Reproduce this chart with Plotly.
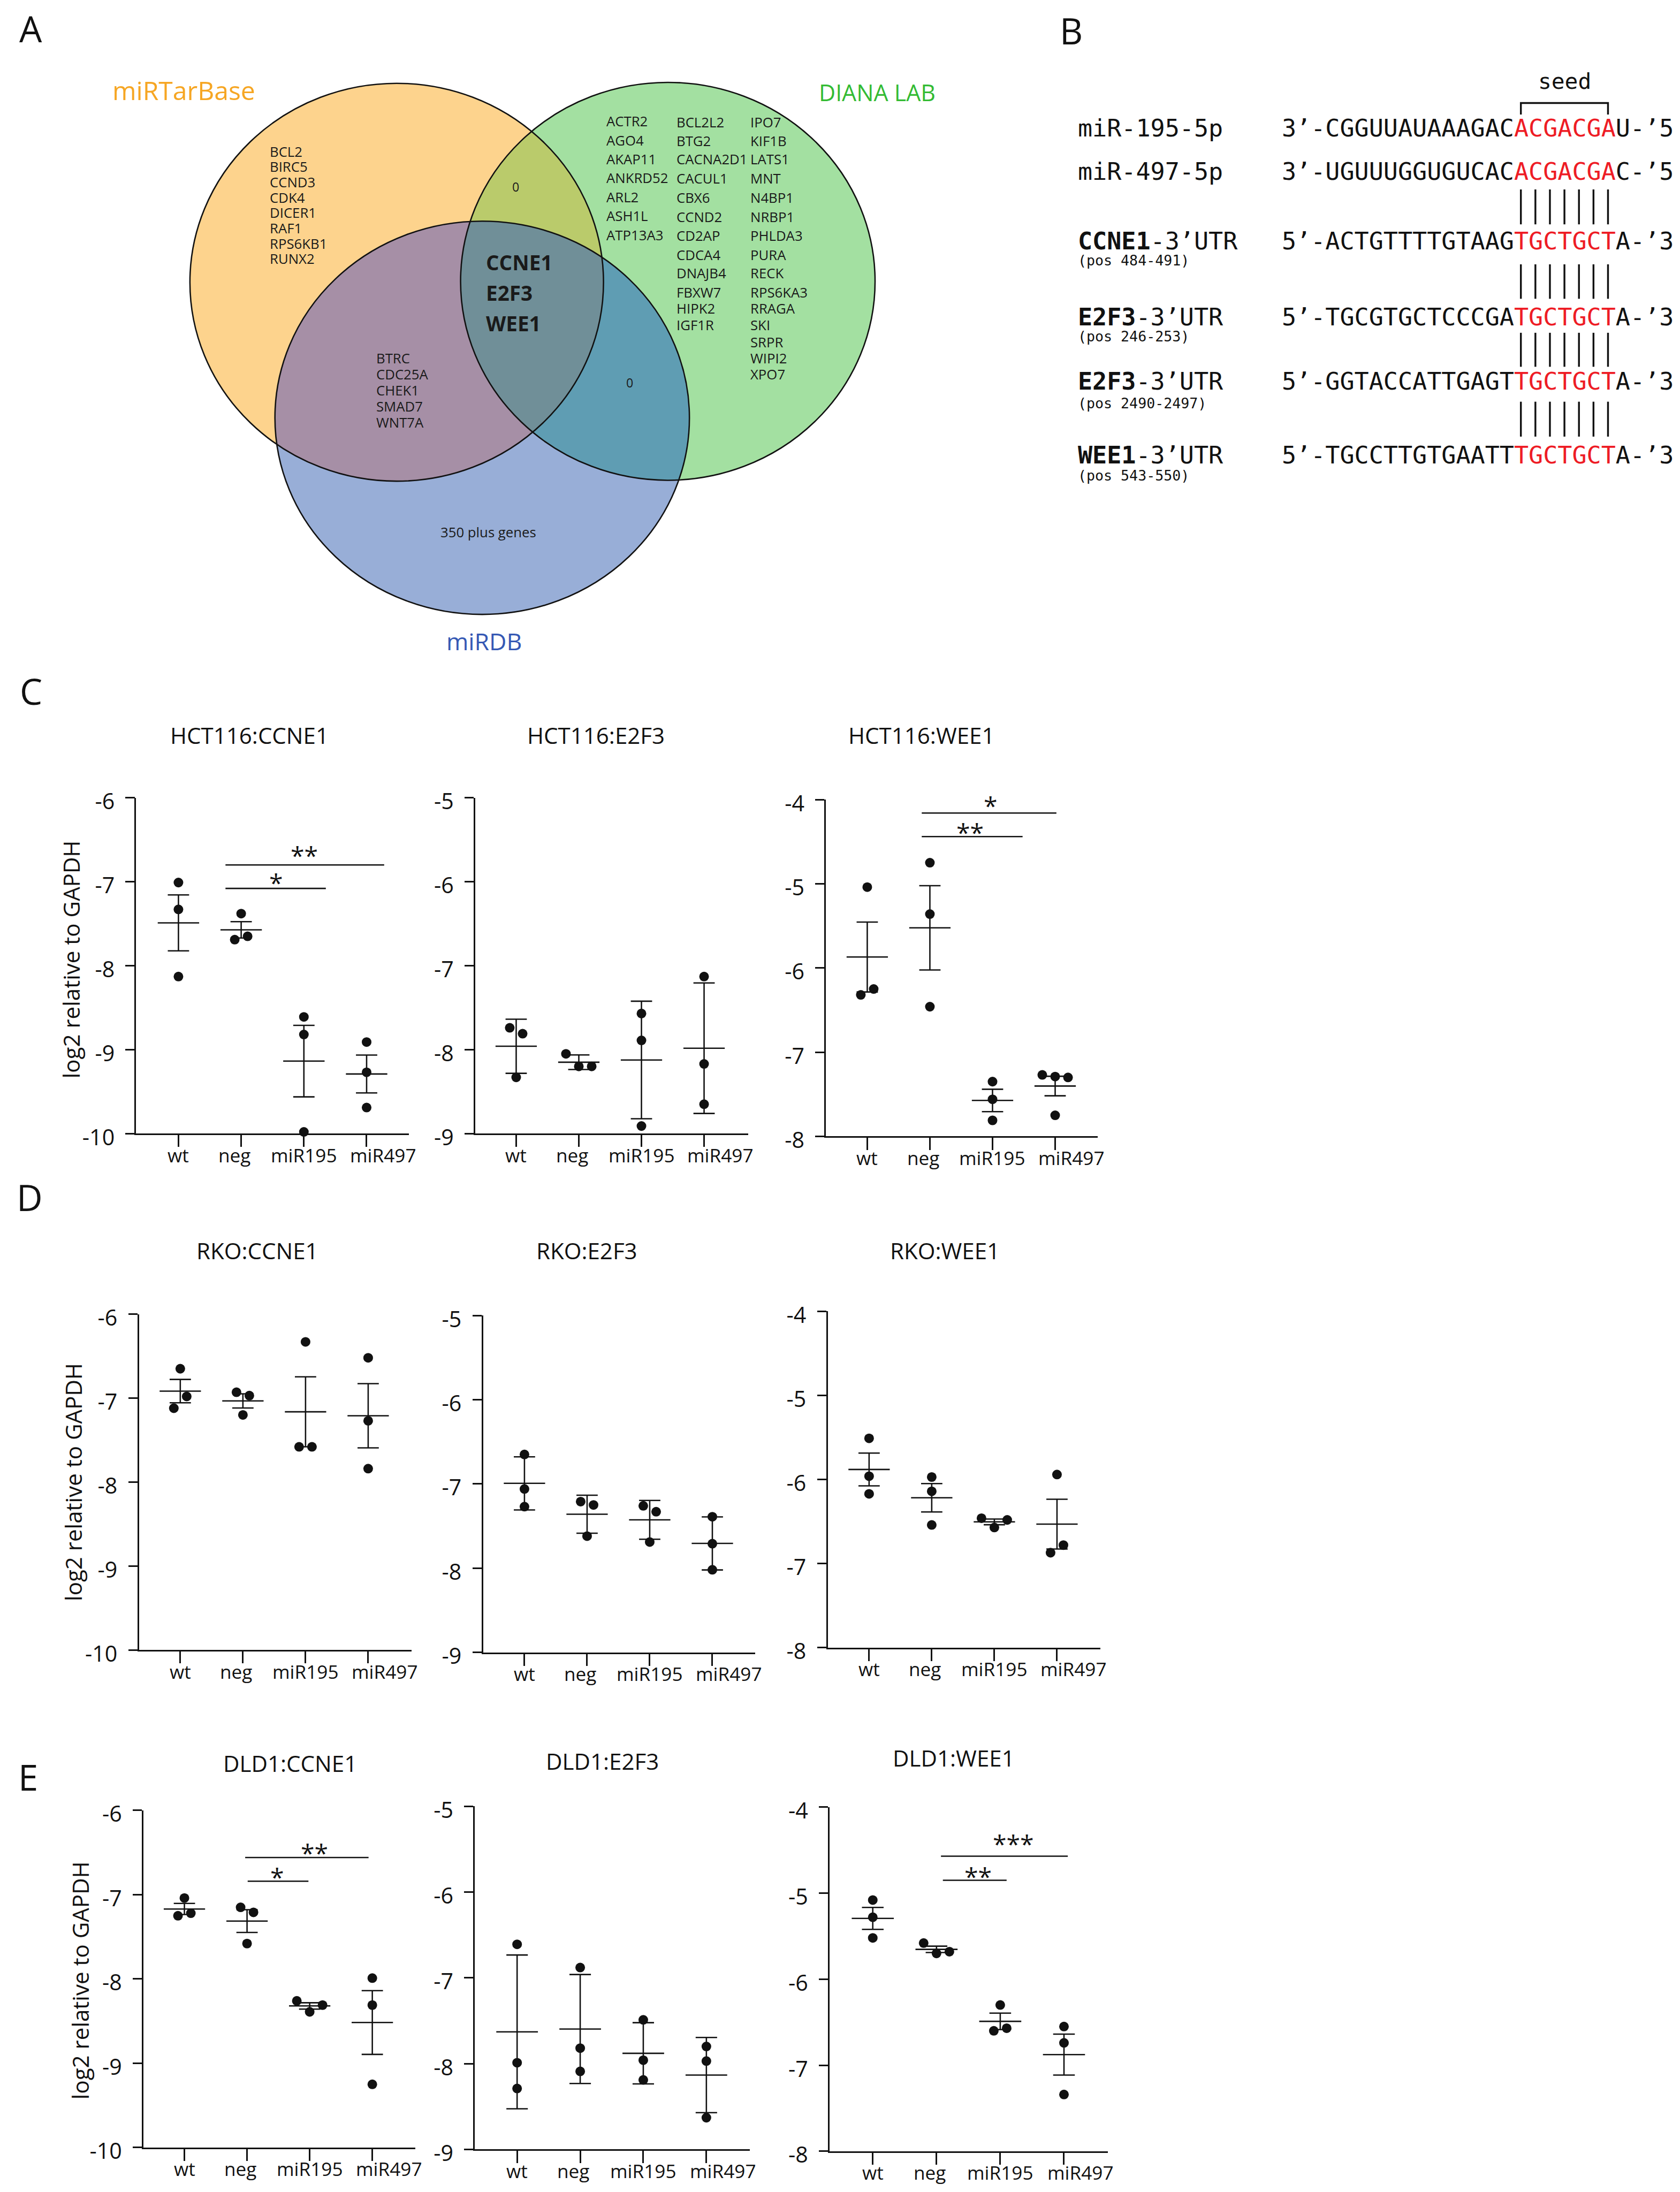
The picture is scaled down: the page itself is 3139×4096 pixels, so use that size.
import numpy as np
import plotly.graph_objects as go

# ---------------- canvas / scaling ----------------
RW, RH = 3656, 4771          # reference size
W, H = 3139, 4096            # output size
S = W / RW

def fx(x):
    return x / RW

def fy(y):
    return 1 - y / RH

def f(v):
    return v * S

# ---------------- data ----------------
categories = ["wt", "neg", "miR195", "miR497"]

hct116_ccne1 = [[-7.01, -7.33, -8.13], [-7.38, -7.69, -7.65], [-8.61, -8.82, -9.98], [-8.91, -9.27, -9.69]]
hct116_e2f3 = [[-7.74, -7.81, -8.33], [-8.05, -8.20, -8.20], [-7.57, -7.89, -8.91], [-7.13, -8.17, -8.65]]
hct116_wee1 = [[-5.04, -6.32, -6.25], [-4.75, -5.36, -6.46], [-7.35, -7.56, -7.81], [-7.27, -7.29, -7.30, -7.75]]
rko_ccne1 = [[-6.65, -7.12, -6.98], [-6.93, -6.97, -7.20], [-6.33, -7.58, -7.58], [-6.52, -7.27, -7.84]]
rko_e2f3 = [[-6.65, -7.06, -7.27], [-7.21, -7.25, -7.62], [-7.26, -7.33, -7.69], [-7.39, -7.71, -8.02]]
rko_wee1 = [[-5.51, -5.96, -6.17], [-5.97, -6.14, -6.54], [-6.46, -6.57, -6.48], [-5.94, -6.87, -6.78]]
dld1_ccne1 = [[-7.04, -7.25, -7.22], [-7.15, -7.21, -7.58], [-8.26, -8.39, -8.31], [-7.99, -8.31, -9.25]]
dld1_e2f3 = [[-6.61, -7.99, -8.29], [-6.88, -7.82, -8.09], [-7.49, -7.96, -8.19], [-7.80, -7.97, -8.63]]
dld1_wee1 = [[-5.08, -5.28, -5.52], [-5.58, -5.70, -5.68], [-6.30, -6.60, -6.57], [-6.55, -6.74, -7.34]]

titles = ["HCT116:CCNE1", "HCT116:E2F3", "HCT116:WEE1",
          "RKO:CCNE1", "RKO:E2F3", "RKO:WEE1",
          "DLD1:CCNE1", "DLD1:E2F3", "DLD1:WEE1"]
datasets = [hct116_ccne1, hct116_e2f3, hct116_wee1,
            rko_ccne1, rko_e2f3, rko_wee1,
            dld1_ccne1, dld1_e2f3, dld1_wee1]
err_types = ["sem", "sd", "sem"] * 3
y_ranges = [(-10, -6), (-9, -5), (-8, -4)] * 3
y_title = "log2 relative to GAPDH"

# significance brackets: (x start, x end, y, label, label x, label y)
sig_brackets = {
    0: [(0.75, 3.28, -6.80, "**", 2.01, -6.67), (0.75, 2.35, -7.08, "*", 1.56, -6.99)],
    2: [(0.87, 3.02, -4.16, "*", 1.97, -4.05), (0.87, 2.48, -4.44, "**", 1.64, -4.37)],
    6: [(0.97, 2.94, -6.56, "**", 2.08, -6.485), (1.01, 1.98, -6.84, "*", 1.48, -6.77)],
    8: [(1.07, 3.06, -4.57, "***", 2.21, -4.41), (1.10, 2.10, -4.85, "**", 1.65, -4.79)],
}

# Venn texts
venn_sets = ["miRTarBase", "DIANA LAB", "miRDB"]
mirtarbase_only = ["BCL2", "BIRC5", "CCND3", "CDK4", "DICER1", "RAF1", "RPS6KB1", "RUNX2"]
mirtarbase_mirdb = ["BTRC", "CDC25A", "CHEK1", "SMAD7", "WNT7A"]
all_three = ["CCNE1", "E2F3", "WEE1"]
diana_col1 = ["ACTR2", "AGO4", "AKAP11", "ANKRD52", "ARL2", "ASH1L", "ATP13A3"]
diana_col2 = ["BCL2L2", "BTG2", "CACNA2D1", "CACUL1", "CBX6", "CCND2", "CD2AP", "CDCA4",
              "DNAJB4", "FBXW7", "HIPK2", "IGF1R"]
diana_col3 = ["IPO7", "KIF1B", "LATS1", "MNT", "N4BP1", "NRBP1", "PHLDA3", "PURA", "RECK",
              "RPS6KA3", "RRAGA", "SKI", "SRPR", "WIPI2", "XPO7"]
tarbase_diana = "0"
diana_mirdb = "0"
mirdb_only = "350 plus genes"

# panel B sequences (prefix, seed, suffix)
seq_names = ["miR-195-5p", "miR-497-5p", "<b>CCNE1</b>-3’UTR", "<b>E2F3</b>-3’UTR",
             "<b>E2F3</b>-3’UTR", "<b>WEE1</b>-3’UTR"]
seq_pos = ["", "", "(pos 484-491)", "(pos 246-253)", "(pos 2490-2497)", "(pos 543-550)"]
seq_parts = [("3’-CGGUUAUAAAGAC", "ACGACGA", "U-’5"),
             ("3’-UGUUUGGUGUCAC", "ACGACGA", "C-’5"),
             ("5’-ACTGTTTTGTAAG", "TGCTGCT", "A-’3"),
             ("5’-TGCGTGCTCCCGA", "TGCTGCT", "A-’3"),
             ("5’-GGTACCATTGAGT", "TGCTGCT", "A-’3"),
             ("5’-TGCCTTGTGAATT", "TGCTGCT", "A-’3")]

# ---------------- layout geometry (reference px) ----------------
# (axis left, axis right, axis top, axis bottom, wt tick x, category spacing, title x, title y)
panel_geom = [
    (287, 881, 1727, 2458, 379, 136.5, 534, 1600),
    (1025, 1619, 1727, 2458, 1114, 136.3, 1288, 1600),
    (1788, 2380, 1731, 2464, 1878, 136.3, 1996, 1600),
    (293, 886, 2851, 3582, 383, 136.3, 551, 2721),
    (1042, 1634, 2854, 3587, 1132, 136.3, 1268, 2721),
    (1792, 2385, 2845, 3577, 1882, 136.3, 2047, 2721),
    (303, 894, 3931, 4665, 392, 136.3, 622, 3837),
    (1024, 1622, 3922, 4669, 1116, 137.3, 1301, 3833),
    (1796, 2402, 3924, 4673, 1890, 138.7, 2066, 3826),
]
xlabel_shift = [0, -15, 0, 36]     # label centre offset from tick (ref px)
XLABEL_DY = 55                     # label centre below axis (ref px)
ytitle_pos = [(145, 2079), (149, 3216), (165, 4301)]
panel_letters = [("A", 58, 52), ("B", 2322, 57), ("C", 58, 1494), ("D", 55, 2596), ("E", 52, 3858)]
TDY = -9                           # glyph-centre correction for middle-anchored text (ref px)

BLACK = "#111111"
PLOT_FONT = "Open Sans"
MONO = "DejaVu Sans Mono"
LW = f(3.0)

fig = go.Figure()
annotations = []
shapes = []
layout = dict(width=W, height=H, margin=dict(l=0, r=0, t=0, b=0, pad=0, autoexpand=False),
              paper_bgcolor="white", plot_bgcolor="white", showlegend=False)


def beeswarm(vals, thr, d):
    n = len(vals)
    order = sorted(range(n), key=lambda i: vals[i])
    clusters, cur = [], [order[0]]
    for a, b in zip(order[:-1], order[1:]):
        if abs(vals[b] - vals[a]) < thr:
            cur.append(b)
        else:
            clusters.append(cur)
            cur = [b]
    clusters.append(cur)
    offs = [0.0] * n
    for c in clusters:
        c = sorted(c)
        k = len(c)
        for j, idx in enumerate(c):
            offs[idx] = (j - (k - 1) / 2) * d
    return offs


MEAN_HW = 0.33
CAP_HW = 0.17

for p, (data, title, etype, yr, geom) in enumerate(zip(datasets, titles, err_types, y_ranges, panel_geom)):
    axL, axR, axT, axB, wt, sp, tx, ty = geom
    n = p + 1
    xa = "x" if n == 1 else f"x{n}"
    ya = "y" if n == 1 else f"y{n}"
    xkey = "xaxis" if n == 1 else f"xaxis{n}"
    ykey = "yaxis" if n == 1 else f"yaxis{n}"
    xr = ((axL - wt) / sp, (axR - wt) / sp)
    layout[xkey] = dict(domain=[fx(axL), fx(axR)], anchor=ya, range=list(xr),
                        showline=True, linecolor=BLACK, linewidth=LW,
                        ticks="outside", ticklen=f(26), tickwidth=LW, tickcolor=BLACK,
                        tickvals=list(range(len(categories))), showticklabels=False,
                        automargin=False, showgrid=False, zeroline=False, fixedrange=True)
    layout[ykey] = dict(domain=[fy(axB), fy(axT)], anchor=xa, range=[yr[0], yr[1]],
                        showline=True, linecolor=BLACK, linewidth=LW,
                        ticks="outside", ticklen=f(20), tickwidth=LW, tickcolor=BLACK,
                        tickvals=list(range(yr[0], yr[1] + 1)),
                        ticktext=[str(v) for v in range(yr[0], yr[1] + 1)],
                        tickfont=dict(family=PLOT_FONT, size=f(48), color=BLACK),
                        ticklabelstandoff=int(f(14)), ticklabelshift=int(f(9)),
                        automargin=False, showgrid=False, zeroline=False, fixedrange=True)

    # category labels (placed as text under each tick)
    for i, cat in enumerate(categories):
        annotations.append(dict(x=i + xlabel_shift[i] / sp, y=fy(axB + XLABEL_DY + TDY), xref=xa,
                                yref="paper", text=cat, showarrow=False, xanchor="center",
                                yanchor="middle",
                                font=dict(family=PLOT_FONT, size=f(41), color=BLACK)))

    # error bars + mean lines
    ex, ey, mx, my = [], [], [], []
    px_, py_ = [], []
    units_per_px = (yr[1] - yr[0]) / (axB - axT)
    for i, vals in enumerate(data):
        v = np.array(vals, dtype=float)
        m = v.mean()
        sd = v.std(ddof=1)
        e = sd if etype == "sd" else sd / np.sqrt(len(v))
        ex += [i, i, None, i - CAP_HW, i + CAP_HW, None, i - CAP_HW, i + CAP_HW, None]
        ey += [m - e, m + e, None, m + e, m + e, None, m - e, m - e, None]
        mx += [i - MEAN_HW, i + MEAN_HW, None]
        my += [m, m, None]
        offs = beeswarm(vals, 29 * units_per_px, 28 / sp)
        px_ += [i + o for o in offs]
        py_ += list(vals)
    fig.add_trace(go.Scatter(x=ex, y=ey, mode="lines", line=dict(color=BLACK, width=LW),
                             xaxis=xa, yaxis=ya, hoverinfo="skip", cliponaxis=False))
    fig.add_trace(go.Scatter(x=mx, y=my, mode="lines", line=dict(color=BLACK, width=LW),
                             xaxis=xa, yaxis=ya, hoverinfo="skip", cliponaxis=False))
    fig.add_trace(go.Scatter(x=px_, y=py_, mode="markers",
                             marker=dict(color=BLACK, size=f(21), line=dict(width=0)),
                             xaxis=xa, yaxis=ya, cliponaxis=False))
    # significance
    for (x0, x1, yv, lab, lx, lyv) in sig_brackets.get(p, []):
        fig.add_trace(go.Scatter(x=[x0, x1], y=[yv, yv], mode="lines",
                                 line=dict(color=BLACK, width=LW),
                                 xaxis=xa, yaxis=ya, hoverinfo="skip", cliponaxis=False))
        annotations.append(dict(x=lx, y=lyv, xref=xa, yref=ya, text=lab, showarrow=False,
                                xanchor="center", yanchor="middle", yshift=-f(3),
                                font=dict(family=PLOT_FONT, size=f(54), color=BLACK)))
    # title
    annotations.append(dict(x=fx(tx), y=fy(ty + TDY), xref="paper", yref="paper", text=title,
                            showarrow=False, xanchor="center", yanchor="middle",
                            font=dict(family=PLOT_FONT, size=f(49), color=BLACK)))

for (x, y) in ytitle_pos:
    annotations.append(dict(x=fx(x), y=fy(y), xref="paper", yref="paper", text=y_title,
                            showarrow=False, textangle=-90, xanchor="center", yanchor="middle",
                            font=dict(family=PLOT_FONT, size=f(49), color=BLACK)))

for (lab, x, y) in panel_letters:
    annotations.append(dict(x=fx(x), y=fy(y), xref="paper", yref="paper", text=lab,
                            showarrow=False, xanchor="center", yanchor="middle",
                            font=dict(family=PLOT_FONT, size=f(78), color=BLACK)))

# ---------------- Venn diagram (panel A) ----------------
ell_orange = (854, 605, 450, 433)
ell_green = (1444, 603, 451, 433)
ell_blue = (1040, 900, 451, 428)
col_o, col_g, col_b = "#FDD38D", "#A3E0A1", "#98AED7"
col_og, col_ob, col_gb, col_ogb = "#BACB6B", "#A68FA6", "#5F9DB3", "#708F98"


def ray_dist(pt, e, th):
    cx, cy, rx, ry = e
    dx, dy = np.cos(th), np.sin(th)
    qx, qy = pt[0] - cx, pt[1] - cy
    a = (dx / rx) ** 2 + (dy / ry) ** 2
    b = 2 * (qx * dx / rx ** 2 + qy * dy / ry ** 2)
    c = (qx / rx) ** 2 + (qy / ry) ** 2 - 1
    return (-b + np.sqrt(b * b - 4 * a * c)) / (2 * a)


def region_path(pt, ells, n=900):
    th = np.linspace(0, 2 * np.pi, n, endpoint=False)
    r = np.min([ray_dist(pt, e, th) for e in ells], axis=0)
    xs = pt[0] + r * np.cos(th)
    ys = pt[1] + r * np.sin(th)
    return "M" + "L".join(f"{fx(a):.5f},{fy(b):.5f}" for a, b in zip(xs, ys)) + "Z"


def ell_shape(e, fill=None):
    cx, cy, rx, ry = e
    d = dict(type="circle", xref="paper", yref="paper",
             x0=fx(cx - rx), x1=fx(cx + rx), y0=fy(cy + ry), y1=fy(cy - ry))
    if fill:
        d["fillcolor"] = fill
        d["line"] = dict(width=0)
    else:
        d["line"] = dict(color=BLACK, width=f(3))
    return d


for e, c in [(ell_orange, col_o), (ell_green, col_g), (ell_blue, col_b)]:
    shapes.append(ell_shape(e, fill=c))


def mid(*es):
    return (np.mean([e[0] for e in es]), np.mean([e[1] for e in es]))


for es, c in [((ell_orange, ell_green), col_og), ((ell_orange, ell_blue), col_ob),
              ((ell_green, ell_blue), col_gb), ((ell_orange, ell_green, ell_blue), col_ogb)]:
    shapes.append(dict(type="path", xref="paper", yref="paper", path=region_path(mid(*es), es),
                       fillcolor=c, line=dict(width=0)))
for e in (ell_orange, ell_green, ell_blue):
    shapes.append(ell_shape(e))

VENN_FONT = "Open Sans"
TXT = "#1a1a1a"


def add_text(text, x, y, size, color=TXT, anchor="left", family=VENN_FONT):
    annotations.append(dict(x=fx(x), y=fy(y + TDY), xref="paper", yref="paper", text=text,
                            showarrow=False, xanchor=anchor, yanchor="middle", borderpad=0,
                            font=dict(family=family, size=f(size), color=color)))


add_text(venn_sets[0], 391, 196, 56, color="#F6A623", anchor="center")
add_text(venn_sets[1], 1900, 201, 50, color="#33BB33", anchor="center")
add_text(venn_sets[2], 1044, 1395, 52, color="#3558B4", anchor="center")

for i, g in enumerate(mirtarbase_only):
    add_text(g, 576, 329 + 33.4 * i, 30)
for i, g in enumerate(mirtarbase_mirdb):
    add_text(g, 808, 779 + 34.8 * i, 30)
for i, g in enumerate(all_three):
    add_text(f"<b>{g}</b>", 1047, 571 + 66 * i, 45)
for i, g in enumerate(diana_col1):
    add_text(g, 1309, 263 + 41.3 * i, 30)
diana_y = [265, 306, 346, 387, 429, 471, 512, 554, 594, 636, 671, 707, 744, 779, 814]
for g, y in zip(diana_col2, diana_y):
    add_text(g, 1462, y, 30)
for g, y in zip(diana_col3, diana_y):
    add_text(g, 1623, y, 30)
add_text(tarbase_diana, 1113, 406, 27, anchor="center")
add_text(diana_mirdb, 1361, 832, 27, anchor="center")
add_text(mirdb_only, 1054, 1157, 30, anchor="center")

# ---------------- panel B ----------------
CW = 31.6                 # char advance (ref px)
MONO_SIZE = CW / 0.602    # font size giving that advance
SEQ_X0 = 2779
LABEL_X = 2335
row_y = [279, 373, 524, 690, 830, 990]
pos_y = [None, None, 566, 732, 877, 1035]
RED = "#EE1C25"

for name, pos, (pre, seed, post), y, yp in zip(seq_names, seq_pos, seq_parts, row_y, pos_y):
    add_text(name, LABEL_X, y, MONO_SIZE, color=BLACK, family=MONO)
    seq = f"{pre}<span style='color:{RED}'>{seed}</span>{post}"
    add_text(seq, SEQ_X0, y, MONO_SIZE, color=BLACK, family=MONO)
    if pos:
        add_text(pos, LABEL_X, yp, 31, color=BLACK, family=MONO)

seed_start = len(seq_parts[0][0])
seed_len = len(seq_parts[0][1])
bar_x = [SEQ_X0 + (seed_start + i + 0.5) * CW for i in range(seed_len)]
bar_rows = [(403, 479), (566, 641), (715, 789), (865, 941)]
for (y0, y1) in bar_rows:
    for x in bar_x:
        shapes.append(dict(type="line", xref="paper", yref="paper", x0=fx(x), x1=fx(x),
                           y0=fy(y0), y1=fy(y1), line=dict(color=BLACK, width=f(4))))
# seed bracket
bx0, bx1 = bar_x[0], bar_x[-1]
shapes.append(dict(type="path", xref="paper", yref="paper",
                   path=f"M{fx(bx0)},{fy(240)}L{fx(bx0)},{fy(215)}L{fx(bx1)},{fy(215)}L{fx(bx1)},{fy(240)}",
                   line=dict(color=BLACK, width=f(4))))
add_text("seed", (bx0 + bx1) / 2, 177, 48, color=BLACK, anchor="center", family=MONO)

layout["annotations"] = annotations
layout["shapes"] = shapes
fig.update_layout(**layout)
fig.write_html("out.html")
